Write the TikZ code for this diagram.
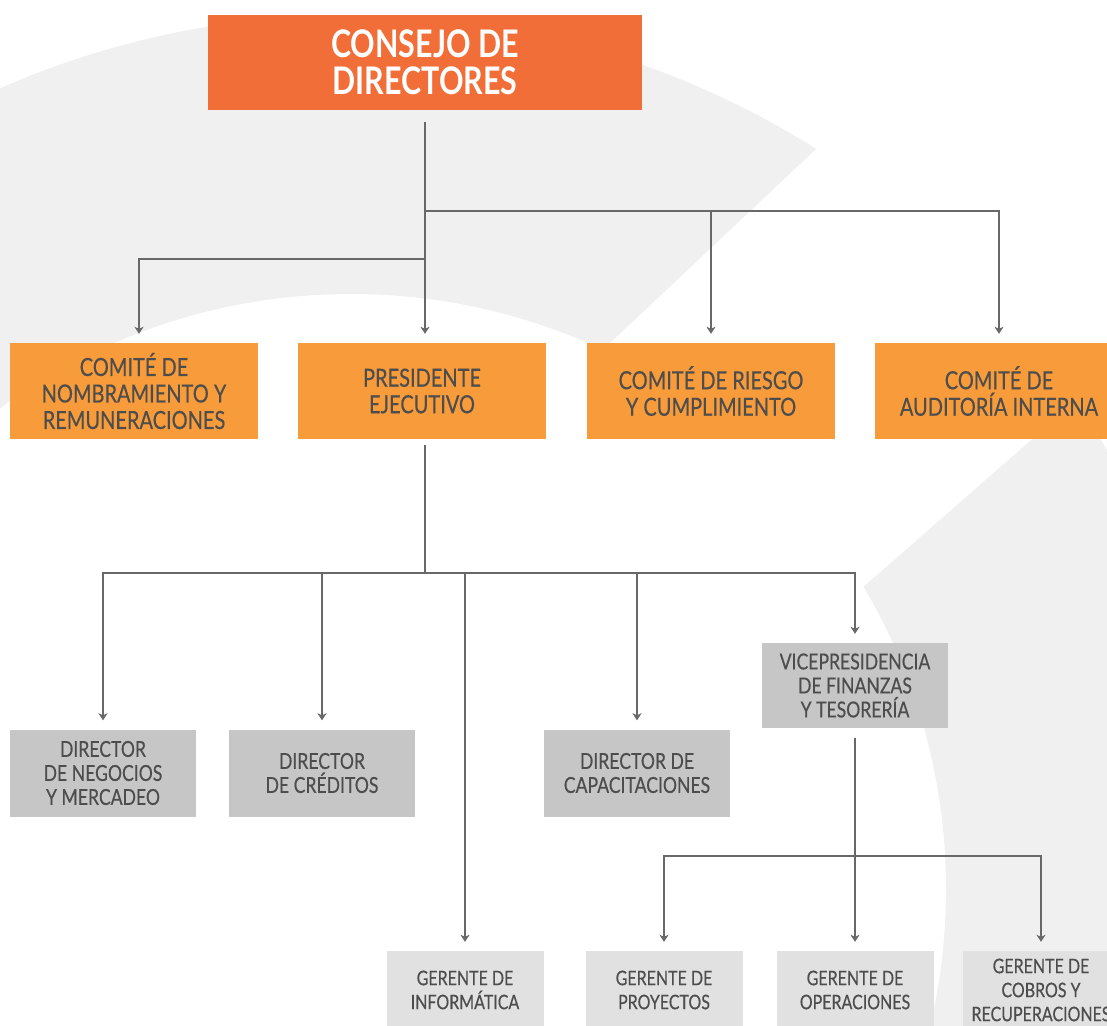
\documentclass[tikz,border=0pt]{standalone}
\usepackage{fontspec}
\setmainfont{Lato}[FakeStretch=0.8]
\newfontfamily\medfont{Lato}[FakeStretch=0.8,FakeBold=0.4]
\usetikzlibrary{arrows.meta}
\definecolor{bgring}{HTML}{F0F0F0}
\definecolor{topc}{HTML}{F26E38}
\definecolor{orc}{HTML}{F89C3B}
\definecolor{grc}{HTML}{C7C6C7}
\definecolor{lgc}{HTML}{E1E1E1}
\definecolor{txc}{HTML}{4D4D4D}
\definecolor{lnc}{HTML}{686868}
\tikzset{
  basebox/.style={inner sep=0pt, align=center, text=txc},
  topbox/.style={basebox, fill=topc, text=white, minimum width=434pt, minimum height=95pt,
     font=\fontsize{38}{37}\selectfont\bfseries},
  orbox/.style={basebox, fill=orc, minimum width=248pt, minimum height=96pt,
     font=\medfont\fontsize{25}{26.5}\selectfont},
  grbox/.style={basebox, fill=grc, minimum width=186pt, minimum height=87pt,
     font=\medfont\fontsize{22}{24}\selectfont},
  lgbox/.style={basebox, fill=lgc, minimum width=157pt, minimum height=78pt,
     font=\medfont\fontsize{20}{24}\selectfont},
  ln/.style={draw=lnc, line width=2.5pt},
  arr/.style={ln, -{Stealth[length=7pt,width=9pt,inset=2pt]}, shorten >=9pt},
}
\begin{document}
\begin{tikzpicture}[x=1pt,y=-1pt]
\useasboundingbox (0,0) rectangle (1107,1025);
\clip (0,0) rectangle (1107,1025);
% background ring
\fill[bgring, even odd rule] (351,889) circle[radius=874pt] (351,889) circle[radius=595pt];
\fill[white] (1000,-24) -- (400,541) -- (662,763) -- (1200,292) -- cycle;
% nodes
\node[topbox] (consejo) at (425,62.5) {CONSEJO DE\\DIRECTORES};
\node[orbox] (nomb) at (134,391) {COMITÉ DE\\NOMBRAMIENTO Y\\REMUNERACIONES};
\node[orbox] (pres) at (422,391) {PRESIDENTE\\EJECUTIVO};
\node[orbox] (riesgo) at (711,391) {COMITÉ DE RIESGO\\Y CUMPLIMIENTO};
\node[orbox] (audit) at (999,391) {COMITÉ DE\\AUDITORÍA INTERNA};
\node[grbox, minimum height=85pt] (vice) at (855,685.5) {VICEPRESIDENCIA\\DE FINANZAS\\Y TESORERÍA};
\node[grbox] (neg) at (103,773) {DIRECTOR\\DE NEGOCIOS\\Y MERCADEO};
\node[grbox] (cred) at (322,773) {DIRECTOR\\DE CRÉDITOS};
\node[grbox] (capa) at (637,773) {DIRECTOR DE\\CAPACITACIONES};
\node[lgbox] (inf) at (465,990) {GERENTE DE\\INFORMÁTICA};
\node[lgbox] (proy) at (664,990) {GERENTE DE\\PROYECTOS};
\node[lgbox] (oper) at (855,990) {GERENTE DE\\OPERACIONES};
\node[lgbox] (cobros) at (1041,990) {GERENTE DE\\COBROS Y\\RECUPERACIONES};
% junctions
\coordinate (ja) at (425,211);
\coordinate (jb) at (425,259);
\coordinate (jc) at (425,573);
\coordinate (jd) at (855,856);
% connectors from consejo
\draw[arr, shorten <=12pt] (consejo.south -| ja) -- (pres.north -| ja);
\draw[arr] (ja) -| (audit.north);
\draw[arr] (ja -| riesgo.north) -- (riesgo.north);
\draw[arr] (jb) -| ([xshift=5pt]nomb.north);
% connectors from presidente
\draw[ln, shorten <=6pt] (pres.south -| jc) -- (jc);
\draw[arr] (jc) -| (neg.north);
\draw[arr] (jc) -| (vice.north);
\draw[arr] (jc -| cred.north) -- (cred.north);
\draw[arr] (jc -| capa.north) -- (capa.north);
\draw[arr] (jc -| inf.north) -- (inf.north);
% connectors from vicepresidencia
\draw[arr, shorten <=10pt] (vice.south) -- (oper.north);
\draw[arr] (jd) -| (proy.north);
\draw[arr] (jd) -| (cobros.north);
\end{tikzpicture}
\end{document}
